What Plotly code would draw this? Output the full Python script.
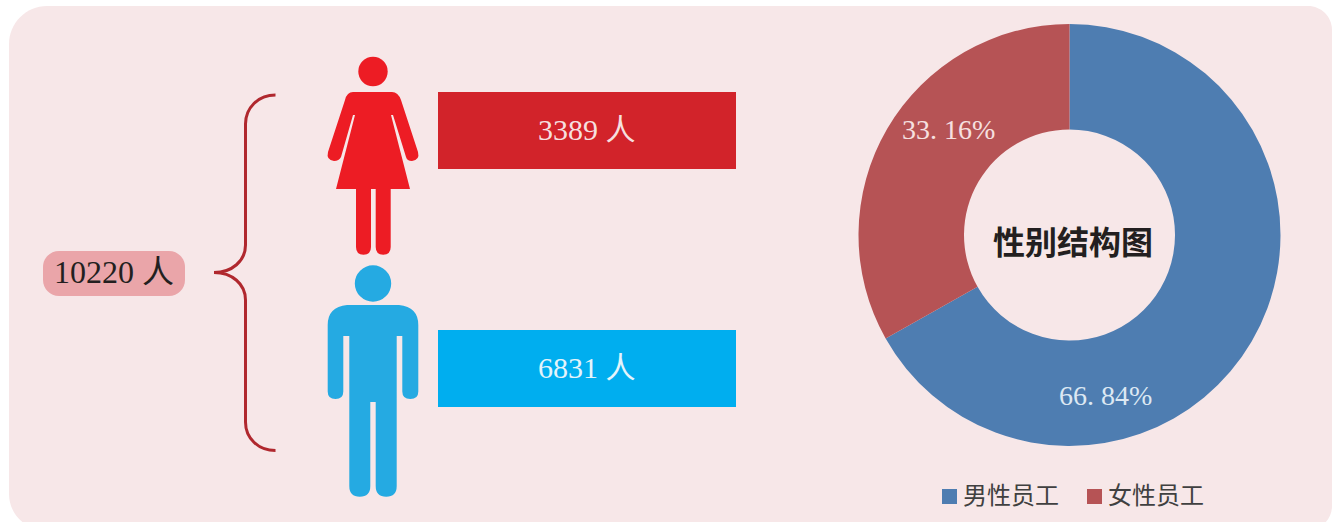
import plotly.graph_objects as go

categories = ["男性员工", "女性员工"]
headcounts = [6831, 3389]
slice_colors = ["#4E7DB1", "#B65355"]
total_label = "10220 人"
chart_title = "性别结构图"

W, H = 1332, 522
SERIF = "'Liberation Serif', 'Noto Sans CJK SC', serif"

total = sum(headcounts)
shares = [f"{v / total * 100:.2f}%" for v in headcounts]

cx, cy, r = 1069.5, 235, 211

fig = go.Figure()
fig.add_trace(go.Scatter(x=[], y=[], showlegend=False, hoverinfo="skip"))
fig.add_trace(go.Pie(
    labels=categories, values=headcounts, hole=0.5, sort=False,
    direction="clockwise", rotation=0, textinfo="none",
    marker=dict(colors=slice_colors, line=dict(width=0)),
    domain=dict(x=[(cx - r) / W, (cx + r) / W],
                y=[1 - (cy + r) / H, 1 - (cy - r) / H]),
    showlegend=False,
))

K = 0.5523


def rrect(x0, y0, x1, y1, tl, tr=None, br=None, bl=None):
    tr = tl if tr is None else tr
    br = tl if br is None else br
    bl = tl if bl is None else bl
    return (f"M{x0+tl},{y0} H{x1-tr} C{x1-tr+K*tr},{y0} {x1},{y0+tr-K*tr} {x1},{y0+tr} "
            f"V{y1-br} C{x1},{y1-br+K*br} {x1-br+K*br},{y1} {x1-br},{y1} "
            f"H{x0+bl} C{x0+bl-K*bl},{y1} {x0},{y1-bl+K*bl} {x0},{y1-bl} "
            f"V{y0+tl} C{x0},{y0+tl-K*tl} {x0+tl-K*tl},{y0} {x0+tl},{y0} Z")


def path(d, fill="rgba(0,0,0,0)", line=None, width=0):
    return dict(type="path", xref="x", yref="y", path=d, fillcolor=fill, layer="below",
                line=dict(color=line or "rgba(0,0,0,0)", width=width))


def circle(x, y, rad, fill):
    return dict(type="circle", xref="x", yref="y", x0=x - rad, x1=x + rad, y0=y - rad, y1=y + rad,
                fillcolor=fill, line=dict(width=0), layer="below")


def rect(x0, y0, x1, y1, fill):
    return dict(type="rect", xref="x", yref="y", x0=x0, x1=x1, y0=y0, y1=y1,
                fillcolor=fill, line=dict(width=0), layer="below")


RED = "#ED1C24"
BLUE = "#25AAE2"
woman = ("M353,92 H392 Q398,92 401,100 L418,152 Q420,160 412,161 Q407,161 406,157 L393,115 H391 L410,189 "
         "H390.7 V247 Q390.7,254.7 383.2,254.7 Q375.7,254.7 375.7,247 V189 H371 V247 Q371,254.7 363.5,254.7 "
         "Q356,254.7 356,247 V189 H336 L355,115 H353 L341,157 Q339,161 334,161 Q326,160 328,152 L345,100 Q347,92 353,92 Z")
man = ("M347,305 H399 Q418.3,307 418.3,325 V391.5 Q418.3,399 410.3,399 Q402.3,399 402.3,391.5 V336 H396.7 V486 "
       "Q396.7,496.7 386.2,496.7 Q375.7,496.7 375.7,486 V402 H370.3 V486 Q370.3,496.7 359.8,496.7 "
       "Q349.3,496.7 349.3,486 V336 H343.3 V391.5 Q343.3,399 335.5,399 Q327.7,399 327.7,391.5 V325 Q327.7,307 347,305 Z")
brace = ("M275.5,95 C258,95 245.5,108 245.5,124 V245 C245.5,261 232,272.5 214,272.5 "
         "C232,272.5 245.5,284 245.5,300 V422 C245.5,438 258,450.5 275.5,450.5")

shapes = [
    path(rrect(9, 6, 1332, 530, 38, 24, 24, 36), fill="#F7E7E8"),
    path(rrect(43, 251, 185, 296, 16), fill="#EAA5A9"),
    path(brace, line="#B0282E", width=3),
    circle(373, 71.5, 14.7, RED),
    path(woman, fill=RED),
    circle(373, 283.5, 18.2, BLUE),
    path(man, fill=BLUE),
    rect(438, 92, 736, 169, "#D2232A"),
    rect(438, 330, 736, 407, "#00AEEF"),
]

annotations = []


def label(x, y, text, size, color, family=SERIF, bold=False, anchor="center"):
    annotations.append(dict(xref="x", yref="y", x=x, y=y, text=f"<b>{text}</b>" if bold else text,
                            showarrow=False, xanchor=anchor, yanchor="middle",
                            font=dict(size=size, color=color, family=family)))


label(114, 272, total_label, 32, "#231F20")
label(587, 129, f"{headcounts[1]} 人", 30, "#F6DFDF")
label(587, 367, f"{headcounts[0]} 人", 30, "#E4F4FB")
label(1105, 395, shares[0].replace(".", ". "), 28, "#DCE8F3")
label(948, 129, shares[1].replace(".", ". "), 28, "#F6E0E0")
label(1073, 240, chart_title, 32, "#231F20", family="'Noto Sans CJK SC', sans-serif", bold=True)

for swatch_x, name, colour in zip([942, 1087], categories, slice_colors):
    shapes.append(rect(swatch_x, 489, swatch_x + 15, 504, colour))
    label(swatch_x + 19, 496, name, 24, "#404040", anchor="left")

fig.update_layout(
    width=W, height=H, margin=dict(l=0, r=0, t=0, b=0),
    paper_bgcolor="#FFFFFF", plot_bgcolor="rgba(0,0,0,0)",
    xaxis=dict(range=[0, W], visible=False, fixedrange=True),
    yaxis=dict(range=[H, 0], visible=False, fixedrange=True),
    shapes=shapes, annotations=annotations, showlegend=False,
)
fig.write_html("out.html", config={"displayModeBar": False},
               post_script="document.body.style.margin='0';document.body.style.overflow='hidden';")
